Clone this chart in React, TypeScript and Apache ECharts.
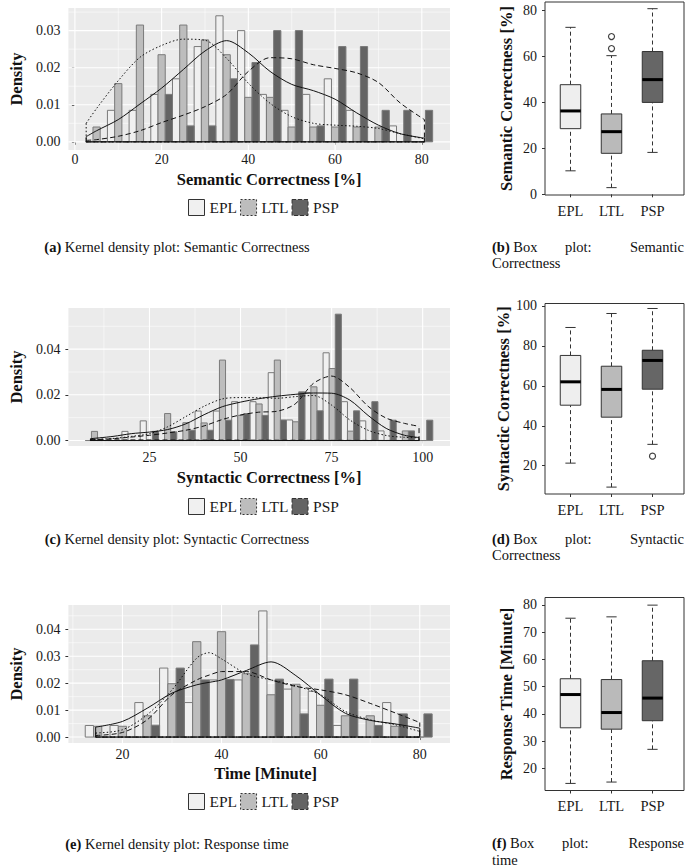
import React, { useEffect, useRef } from "react";
import * as echarts from "echarts";

// ---------- data ----------
const groups = ["EPL", "LTL", "PSP"];

// (a) Semantic correctness: histogram densities per bin
const semBinStart = 2.5;
const semBinWidth = 5;
const semHistEPL = [0, 0.0085, 0.0085, 0.0128, 0.017, 0.0257, 0.034, 0.03, 0.0128, 0.0085, 0.0128, 0.017, 0.0085, 0, 0.0043, 0];
const semHistLTL = [0.004, 0.0157, 0.0315, 0.0235, 0.0315, 0.0275, 0.0235, 0.012, 0.012, 0.004, 0.004, 0.004, 0.004, 0.004, 0, 0];
const semHistPSP = [0, 0, 0, 0.0128, 0.0043, 0.0043, 0.017, 0.0214, 0.03, 0.03, 0.0043, 0.0257, 0.0257, 0.0085, 0.0085, 0.0085];
const semDensX = [2.6, 5, 10, 15, 20, 25, 30, 35, 40, 45, 50, 55, 60, 65, 70, 75, 80.6];
const semDensEPL = [0.0014, 0.003, 0.006, 0.0102, 0.0145, 0.0195, 0.0245, 0.0273, 0.024, 0.019, 0.0155, 0.0138, 0.0115, 0.0078, 0.0045, 0.0022, 0.001];
const semDensLTL = [0.005, 0.009, 0.0165, 0.0228, 0.026, 0.0277, 0.0274, 0.0225, 0.0158, 0.0104, 0.0068, 0.005, 0.0045, 0.0042, 0.0036, 0.0022, 0.0008];
const semDensPSP = [0.0004, 0.0006, 0.0015, 0.003, 0.0052, 0.0072, 0.0095, 0.0128, 0.019, 0.0227, 0.0224, 0.0208, 0.0198, 0.0186, 0.016, 0.0105, 0.006];
const semXTicks = [0, 20, 40, 60, 80];
const semXMinor = [10, 30, 50, 70];
const semYTicks = [0, 0.01, 0.02, 0.03];
const semYMinor = [0.005, 0.015, 0.025, 0.035];

// (c) Syntactic correctness
const synBinStart = 7.4;
const synBinWidth = 5.02;
const synHistEPL = [0, 0, 0.004, 0.0086, 0, 0, 0.0129, 0.0129, 0.017, 0.017, 0.0297, 0.009, 0.021, 0.0384, 0.017, 0.0086, 0.0042, 0, 0];
const synHistLTL = [0.004, 0, 0, 0, 0.0118, 0.0078, 0.0077, 0.0352, 0.011, 0.016, 0.0352, 0.0082, 0.0235, 0.0315, 0.0041, 0, 0, 0.0042, 0];
const synHistPSP = [0, 0, 0, 0.004, 0.0038, 0.0045, 0.0045, 0.0089, 0.0118, 0.011, 0.009, 0.0213, 0.013, 0.0553, 0.013, 0.017, 0.0089, 0.0042, 0.0089];
const synDensX = [8.8, 15, 20, 25, 30, 35, 40, 45, 50, 55, 60, 65, 70, 75, 80, 85, 90, 95, 99];
const synDensEPL = [0.0008, 0.0018, 0.003, 0.0037, 0.0048, 0.0073, 0.0113, 0.0148, 0.0168, 0.0183, 0.0194, 0.0202, 0.0208, 0.0207, 0.0177, 0.011, 0.0053, 0.0023, 0.0013];
const synDensLTL = [0.0004, 0.0009, 0.0018, 0.003, 0.006, 0.0105, 0.015, 0.0182, 0.0188, 0.0187, 0.0185, 0.0192, 0.0197, 0.0155, 0.009, 0.0045, 0.0022, 0.0014, 0.0012];
const synDensPSP = [0.0003, 0.0008, 0.0015, 0.0023, 0.0033, 0.0045, 0.0064, 0.0092, 0.0112, 0.0124, 0.0128, 0.016, 0.025, 0.0282, 0.0232, 0.015, 0.0098, 0.0075, 0.0062];
const synXTicks = [25, 50, 75, 100];
const synXMinor = [12.5, 37.5, 62.5, 87.5];
const synYTicks = [0, 0.02, 0.04];
const synYMinor = [0.01, 0.03, 0.05];

// (e) Response time
const timeBinStart = 12.5;
const timeBinWidth = 5;
const timeHistEPL = [0.0043, 0.0043, 0.0128, 0.0256, 0.0128, 0.0212, 0.0212, 0.0468, 0.0178, 0.017, 0.0043, 0, 0.0128, 0];
const timeHistLTL = [0.004, 0.004, 0.0079, 0.0198, 0.0354, 0.0391, 0.0235, 0.0157, 0.0196, 0.0118, 0.0079, 0.0079, 0.004, 0];
const timeHistPSP = [0, 0, 0.0044, 0.0256, 0.0212, 0.0214, 0.0342, 0.0215, 0.0086, 0.0215, 0.0215, 0.0043, 0.0086, 0.0086];
const timeDensX = [14.6, 20, 25, 30, 35, 37.5, 40, 45, 50, 55, 60, 65, 70, 75, 80];
const timeDensEPL = [0.0037, 0.0058, 0.0107, 0.0163, 0.0194, 0.0203, 0.0212, 0.0247, 0.0279, 0.0228, 0.0155, 0.0088, 0.0062, 0.0049, 0.0033];
const timeDensLTL = [0.0015, 0.0027, 0.0083, 0.0175, 0.0293, 0.0313, 0.029, 0.0235, 0.0212, 0.019, 0.0157, 0.0095, 0.0064, 0.0046, 0.0021];
const timeDensPSP = [0.0006, 0.0017, 0.0064, 0.0157, 0.0212, 0.023, 0.0243, 0.0243, 0.0212, 0.0188, 0.0175, 0.0157, 0.0125, 0.009, 0.0054];
const timeXTicks = [20, 40, 60, 80];
const timeXMinor = [10, 30, 50, 70];
const timeYTicks = [0, 0.01, 0.02, 0.03, 0.04];
const timeYMinor = [0.005, 0.015, 0.025, 0.035, 0.045];

// Box plots: [min, Q1, median, Q3, max]
const boxCats = ["EPL", "LTL", "PSP"];
const semBoxStats = [[10.2, 28.5, 36.2, 47.6, 72.5], [2.9, 17.8, 27.2, 34.9, 60.2], [18.2, 39.9, 49.8, 62.0, 80.6]];
const semOutliers: [string, number][] = [["LTL", 63.3], ["LTL", 68.5]];
const semBoxTicks = [0, 20, 40, 60, 80];
const synBoxStats = [[21.3, 50.3, 62.0, 75.2, 89.2], [9.3, 44.3, 58.2, 69.8, 96.2], [30.7, 58.3, 72.7, 77.8, 98.7]];
const synOutliers: [string, number][] = [["PSP", 24.8]];
const synBoxTicks = [20, 40, 60, 80, 100];
const timeBoxStats = [[14.5, 34.9, 47.1, 52.9, 75.1], [15.0, 34.4, 40.5, 52.6, 75.6], [27.0, 37.5, 45.8, 59.5, 79.9]];
const timeOutliers: [string, number][] = [];
const timeBoxTicks = [20, 30, 40, 50, 60, 70, 80];

// ---------- styles ----------
const FONT = "'Liberation Serif', 'Times New Roman', serif";
const histFills = ["#F0F0F0", "#BDBDBD", "#646464"];
const boxFills = ["#EEEEEE", "#BABABA", "#666666"];
const histStroke = "#7A7A7A";
const lineDashes: any[] = ["solid", [1.5, 2.2], [5, 3]];
const legendDashes: any[] = ["solid", [2, 2], [4, 2]];
const TXT = "#1a1a1a";
const TICK_FS = 14;
const TITLE_FS = 16.5;

function gridLineSeries(idx: number, xT: number[], xM: number[], yT: number[], yM: number[], xMin: number) {
  const data = [
    ...xM.map((v) => [v, 1, 0]),
    ...yM.map((v) => [v, 0, 0]),
    ...xT.map((v) => [v, 1, 1]),
    ...yT.map((v) => [v, 0, 1]),
  ];
  return {
    type: "custom",
    xAxisIndex: idx,
    yAxisIndex: idx,
    silent: true,
    z: 1,
    data,
    encode: { x: 0, y: 1 },
    renderItem: (params: any, api: any) => {
      const cs = params.coordSys;
      const v = api.value(0);
      const isX = api.value(1);
      const major = api.value(2);
      const w = major ? 1.1 : 0.55;
      if (isX) {
        const px = api.coord([v, 0])[0];
        return { type: "line", shape: { x1: px, y1: cs.y, x2: px, y2: cs.y + cs.height }, style: { stroke: "#fff", lineWidth: w } };
      }
      const py = api.coord([xMin, v])[1];
      return { type: "line", shape: { x1: cs.x, y1: py, x2: cs.x + cs.width, y2: py }, style: { stroke: "#fff", lineWidth: w } };
    },
  };
}

function histSeries(idx: number, start: number, width: number, values: number[], g: number) {
  const third = width / 3;
  return {
    type: "custom",
    name: groups[g],
    xAxisIndex: idx,
    yAxisIndex: idx,
    silent: true,
    z: 2,
    data: values.map((v, k) => [start + k * width + g * third, start + k * width + (g + 1) * third, v]),
    encode: { x: [0, 1], y: 2 },
    renderItem: (params: any, api: any) => {
      const a = api.coord([api.value(0), 0]);
      const b = api.coord([api.value(1), api.value(2)]);
      return {
        type: "rect",
        shape: { x: a[0], y: b[1], width: b[0] - a[0], height: a[1] - b[1] },
        style: { fill: histFills[g], stroke: histStroke, lineWidth: 1 },
      };
    },
  };
}

function densSeries(idx: number, xs: number[], ys: number[], g: number) {
  const n = xs.length;
  const base = {
    type: "line",
    xAxisIndex: idx,
    yAxisIndex: idx,
    silent: true,
    z: 3,
    symbol: "none",
    showSymbol: false,
    lineStyle: { color: "#111", width: 1, type: lineDashes[g] },
  };
  return [
    { ...base, name: groups[g] + " density", data: xs.map((x, i) => [x, ys[i]]), smooth: 0.3 },
    { ...base, name: groups[g] + " outline", data: [[xs[0], ys[0]], [xs[0], 0], [xs[n - 1], 0], [xs[n - 1], ys[n - 1]]], smooth: false },
  ];
}

const BOX_W = 0.5;
function boxSeries(idx: number, stats: number[][]) {
  return {
    type: "custom",
    xAxisIndex: idx,
    yAxisIndex: idx,
    silent: true,
    z: 2,
    data: stats.map((s, i) => [i + 1, ...s]),
    encode: { x: 0, y: [1, 2, 3, 4, 5] },
    renderItem: (params: any, api: any) => {
      const i = api.value(0);
      const lo = api.coord([i, api.value(1)]);
      const q1 = api.coord([i, api.value(2)]);
      const med = api.coord([i, api.value(3)]);
      const q3 = api.coord([i, api.value(4)]);
      const hi = api.coord([i, api.value(5)]);
      const bw = api.size([BOX_W, 0])[0];
      const cx = lo[0];
      const half = bw / 2;
      const cap = bw / 4;
      const dash = { stroke: "#333", lineWidth: 1, lineDash: [4, 3] };
      const solid = { stroke: "#333", lineWidth: 1 };
      return {
        type: "group",
        children: [
          { type: "line", shape: { x1: cx, y1: q3[1], x2: cx, y2: hi[1] }, style: dash },
          { type: "line", shape: { x1: cx, y1: lo[1], x2: cx, y2: q1[1] }, style: dash },
          { type: "line", shape: { x1: cx - cap, y1: hi[1], x2: cx + cap, y2: hi[1] }, style: solid },
          { type: "line", shape: { x1: cx - cap, y1: lo[1], x2: cx + cap, y2: lo[1] }, style: solid },
          { type: "rect", shape: { x: cx - half, y: q3[1], width: bw, height: q1[1] - q3[1] }, style: { fill: boxFills[params.dataIndex], stroke: "#333", lineWidth: 1 } },
          { type: "line", shape: { x1: cx - half, y1: med[1], x2: cx + half, y2: med[1] }, style: { stroke: "#000", lineWidth: 3 } },
        ],
      };
    },
  };
}

const densityPanels = [
  {
    grid: { left: 62, top: 8, width: 388, height: 142 },
    xMin: -1.5, xMax: 86.5, yMin: -0.0022, yMax: 0.0361,
    xT: semXTicks, xM: semXMinor, yT: semYTicks, yM: semYMinor,
    binStart: semBinStart, binWidth: semBinWidth, hist: [semHistEPL, semHistLTL, semHistPSP],
    dx: semDensX, dens: [semDensEPL, semDensLTL, semDensPSP],
    title: "Semantic Correctness [%]", nameGap: 21, shift: 20, labelMargin: 2, legendTop: 199,
  },
  {
    grid: { left: 62, top: 308, width: 388, height: 138 },
    xMin: 2.75, xMax: 107.5, yMin: -0.0024, yMax: 0.058,
    xT: synXTicks, xM: synXMinor, yT: synYTicks, yM: synYMinor,
    binStart: synBinStart, binWidth: synBinWidth, hist: [synHistEPL, synHistLTL, synHistPSP],
    dx: synDensX, dens: [synDensEPL, synDensLTL, synDensPSP],
    title: "Syntactic Correctness [%]", nameGap: 23, shift: 20, labelMargin: 4, legendTop: 498,
  },
  {
    grid: { left: 62, top: 605, width: 388, height: 138 },
    xMin: 9.1, xMax: 86.1, yMin: -0.0022, yMax: 0.049,
    xT: timeXTicks, xM: timeXMinor, yT: timeYTicks, yM: timeYMinor,
    binStart: timeBinStart, binWidth: timeBinWidth, hist: [timeHistEPL, timeHistLTL, timeHistPSP],
    dx: timeDensX, dens: [timeDensEPL, timeDensLTL, timeDensPSP],
    title: "Time [Minute]", nameGap: 22, shift: 13, labelMargin: 4, legendTop: 793,
  },
];

const boxPanels = [
  { grid: { left: 545, top: 2, width: 139, height: 193 }, yMin: -0.3, yMax: 83.5, ticks: semBoxTicks, stats: semBoxStats, outliers: semOutliers, title: "Semantic Correctness [%]" },
  { grid: { left: 545, top: 303.5, width: 139, height: 190.5 }, yMin: 5.85, yMax: 101.2, ticks: synBoxTicks, stats: synBoxStats, outliers: synOutliers, title: "Syntactic Correctness [%]" },
  { grid: { left: 545, top: 597.5, width: 139, height: 193 }, yMin: 11.9, yMax: 82.7, ticks: timeBoxTicks, stats: timeBoxStats, outliers: timeOutliers, title: "Response Time [Minute]" },
];

function buildOption() {
  const grids: any[] = [];
  const xAxes: any[] = [];
  const yAxes: any[] = [];
  const series: any[] = [];
  const legends: any[] = [];
  const tickStyle = { show: true, length: 3, lineStyle: { color: "#333", width: 1 } };

  densityPanels.forEach((p) => {
    const idx = grids.length;
    grids.push({ ...p.grid, show: true, backgroundColor: "#EBEBEB", borderWidth: 0 });
    xAxes.push({
      gridIndex: idx, type: "value", min: p.xMin, max: p.xMax,
      axisLine: { show: false },
      axisTick: { ...tickStyle, customValues: p.xT },
      axisLabel: { customValues: p.xT, margin: p.labelMargin, fontSize: TICK_FS, color: TXT, fontFamily: FONT, formatter: (v: number) => String(v) },
      splitLine: { show: false },
      name: p.title, nameLocation: "middle", nameGap: p.nameGap,
      nameTextStyle: { fontWeight: "bold", fontSize: TITLE_FS, color: "#111", fontFamily: FONT, padding: [0, 0, 0, p.shift] },
    });
    yAxes.push({
      gridIndex: idx, type: "value", min: p.yMin, max: p.yMax,
      axisLine: { show: false },
      axisTick: { ...tickStyle, customValues: p.yT },
      axisLabel: { customValues: p.yT, margin: 8, fontSize: TICK_FS, color: TXT, fontFamily: FONT, formatter: (v: number) => v.toFixed(2) },
      splitLine: { show: false },
      name: "Density", nameLocation: "middle", nameGap: 43,
      nameTextStyle: { fontWeight: "bold", fontSize: TITLE_FS, color: "#111", fontFamily: FONT },
    });
    series.push(gridLineSeries(idx, p.xT, p.xM, p.yT, p.yM, p.xMin));
    p.hist.forEach((h, g) => series.push(histSeries(idx, p.binStart, p.binWidth, h, g)));
    p.dens.forEach((d, g) => series.push(...densSeries(idx, p.dx, d, g)));
    legends.push({
      left: 188, top: p.legendTop, orient: "horizontal", selectedMode: false, padding: 0,
      itemWidth: 16, itemHeight: 16, itemGap: 3,
      textStyle: { fontSize: 15.5, fontFamily: FONT, color: TXT },
      data: groups.map((name, g) => ({
        name, icon: "rect",
        itemStyle: { color: histFills[g], borderColor: "#333", borderWidth: 1, borderType: legendDashes[g] },
      })),
    });
  });

  boxPanels.forEach((p) => {
    const idx = grids.length;
    grids.push({ ...p.grid, show: true, backgroundColor: "#fff", borderColor: "#333", borderWidth: 1 });
    xAxes.push({
      gridIndex: idx, type: "value", min: 0.378, max: 3.768,
      axisLine: { show: false },
      axisTick: { ...tickStyle, customValues: [1, 2, 3] },
      axisLabel: { customValues: [1, 2, 3], margin: 8, fontSize: 14.5, color: TXT, fontFamily: FONT, formatter: (v: number) => boxCats[Math.round(v) - 1] },
      splitLine: { show: false },
    });
    yAxes.push({
      gridIndex: idx, type: "value", min: p.yMin, max: p.yMax,
      axisLine: { show: false },
      axisTick: { ...tickStyle, customValues: p.ticks },
      axisLabel: { customValues: p.ticks, margin: 8, fontSize: TICK_FS, color: TXT, fontFamily: FONT, formatter: (v: number) => String(v) },
      splitLine: { show: false },
      name: p.title, nameLocation: "middle", nameGap: 30,
      nameTextStyle: { fontWeight: "bold", fontSize: TITLE_FS, color: "#111", fontFamily: FONT },
    });
    series.push(boxSeries(idx, p.stats));
    series.push({
      type: "scatter", xAxisIndex: idx, yAxisIndex: idx, silent: true, z: 4,
      symbol: "circle", symbolSize: 6,
      itemStyle: { color: "#fff", borderColor: "#111", borderWidth: 1.2 },
      data: p.outliers.map(([c, v]) => [boxCats.indexOf(c) + 1, v]),
    });
  });

  const capStyle = (extra: any) => ({ fontSize: 14.5, fontFamily: FONT, fill: "#111", verticalAlign: "middle", rich: { b: { fontWeight: "bold", fontSize: 14.5, fontFamily: FONT } }, ...extra });
  const txt = (x: number, y: number, text: string, align: string) => ({ type: "text", x, y, silent: true, style: capStyle({ text, align }) });

  const graphic = [
    txt(177, 246.5, "{b|(a)} Kernel density plot: Semantic Correctness", "center"),
    txt(177, 538.5, "{b|(c)} Kernel density plot: Syntactic Correctness", "center"),
    txt(177, 843.5, "{b|(e)} Kernel density plot: Response time", "center"),
    txt(492, 246.5, "{b|(b)} Box", "left"),
    txt(565, 246.5, "plot:", "left"),
    txt(684, 246.5, "Semantic", "right"),
    txt(492, 263, "Correctness", "left"),
    txt(492, 538.5, "{b|(d)} Box", "left"),
    txt(565, 538.5, "plot:", "left"),
    txt(684, 538.5, "Syntactic", "right"),
    txt(492, 555, "Correctness", "left"),
    txt(492, 842.5, "{b|(f)} Box", "left"),
    txt(562, 842.5, "plot:", "left"),
    txt(684, 842.5, "Response", "right"),
    txt(492, 859.5, "time", "left"),
  ];

  return {
    animation: false,
    backgroundColor: "#fff",
    textStyle: { fontFamily: FONT },
    grid: grids,
    xAxis: xAxes,
    yAxis: yAxes,
    legend: legends,
    series,
    graphic,
  };
}

export default function App() {
  const ref = useRef<HTMLDivElement>(null);
  useEffect(() => {
    if (!ref.current) return;
    const chart = echarts.init(ref.current, undefined, { renderer: "svg" });
    chart.setOption(buildOption() as any);
    return () => chart.dispose();
  }, []);
  return <div ref={ref} style={{ position: "absolute", left: 0, top: 0, width: 685, height: 868 }} />;
}
